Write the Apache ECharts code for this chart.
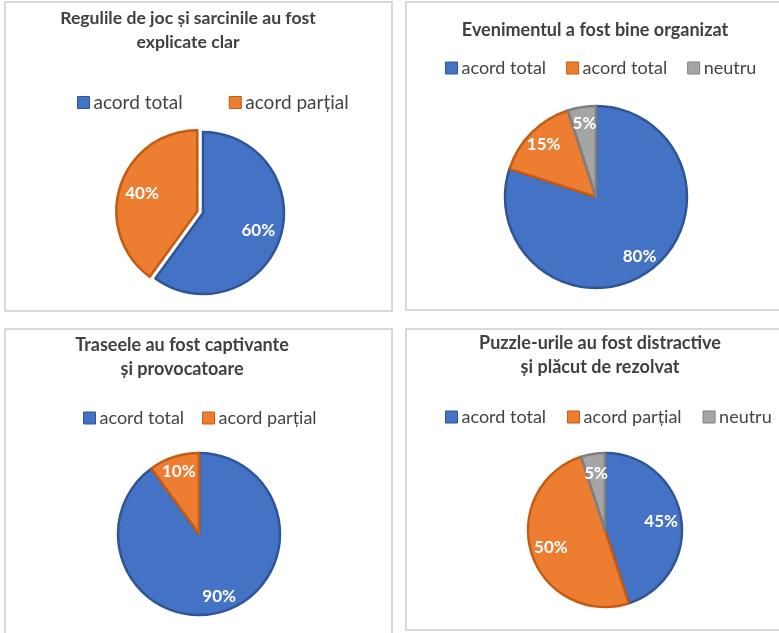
<!DOCTYPE html>
<html>
<head>
<meta charset="utf-8">
<script src="https://cdn.jsdelivr.net/npm/echarts@6/dist/echarts.min.js"></script>
<style>
html,body{margin:0;padding:0;background:#fff;}
#chart{width:779px;height:633px;}
</style>
</head>
<body>
<div id="chart"></div>
<script>
// ---- data ----
const chartTitles = [
  'Regulile de joc și sarcinile au fost\nexplicate clar',
  'Evenimentul a fost bine organizat',
  'Traseele au fost captivante\nși provocatoare',
  'Puzzle-urile au fost distractive\nși plăcut de rezolvat'
];
const categories1 = ['acord total', 'acord parțial'];
const values1 = [60, 40];
const categories2 = ['acord total', 'acord total', 'neutru'];
const values2 = [80, 15, 5];
const categories3 = ['acord total', 'acord parțial'];
const values3 = [90, 10];
const categories4 = ['acord total', 'acord parțial', 'neutru'];
const values4 = [45, 50, 5];

// ---- styling / layout ----
const FONT = 'Lato';
const sliceColors = ['#4472C4', '#ED7D31', '#A5A5A5'];
const sliceBorders = ['#2F5597', '#C55A11', '#7F7F7F'];

const panels = [
  {cats: categories1, vals: values1, title: chartTitles[0], tx: 188, ty: 6, tfs: 17.6,
   lx: 77, ly: 93, lfs: 19, gap: 46, cx: 203, cy: 213, r: 81, lab: 0.68, explode: 1},
  {cats: categories2, vals: values2, title: chartTitles[1], tx: 595, ty: 18, tfs: 18,
   lx: 445, ly: 59, lfs: 18, gap: 20, cx: 596, cy: 197, r: 91, lab: 0.78, explode: -1},
  {cats: categories3, vals: values3, title: chartTitles[2], tx: 182, ty: 333, tfs: 18,
   lx: 83, ly: 409, lfs: 18, gap: 18, cx: 199, cy: 534, r: 81, lab: 0.77, explode: -1},
  {cats: categories4, vals: values4, title: chartTitles[3], tx: 600, ty: 331, tfs: 18,
   lx: 445, ly: 408, lfs: 18, gap: 21, cx: 605, cy: 530, r: 77, lab: 0.70, explode: -1}
];

// unique internal names (one chart repeats a legend label)
function uniqueNames(cats) {
  const seen = {};
  return cats.map(c => {
    let n = c;
    while (seen[n]) n += '\u200B';
    seen[n] = true;
    return n;
  });
}

const titles = [], legends = [], mainSeries = [], labelSeries = [];
panels.forEach((p, i) => {
  const names = uniqueNames(p.cats);
  titles.push({
    text: p.title, left: p.tx, top: p.ty, textAlign: 'center', padding: 0,
    textStyle: {fontFamily: FONT, fontSize: p.tfs, fontWeight: 'bold', color: '#404040', lineHeight: 24}
  });
  legends.push({
    data: names, left: p.lx, top: p.ly, width: 360, padding: 0, itemGap: p.gap,
    itemWidth: 12, itemHeight: 12, icon: 'rect', selectedMode: false,
    itemStyle: {borderWidth: 1},
    formatter: n => n.replace(/\u200B/g, ''),
    textStyle: {fontFamily: FONT, fontSize: p.lfs, color: '#444444', padding: [0, 0, 0, -1]}
  });
  const mkData = (transparent) => p.vals.map((v, k) => ({
    name: names[k], value: v, selected: k === p.explode,
    itemStyle: transparent
      ? {color: 'rgba(0,0,0,0)', borderWidth: 0}
      : {color: sliceColors[k], borderColor: sliceBorders[k], borderWidth: 2.5}
  }));
  mainSeries.push({
    type: 'pie', center: [p.cx, p.cy], radius: [0, p.r], startAngle: 90, clockwise: true,
    selectedMode: 'single', selectedOffset: 6, animation: false, silent: true,
    label: {show: false}, labelLine: {show: false},
    data: mkData(false)
  });
  labelSeries.push({
    type: 'pie', center: [p.cx, p.cy],
    radius: [p.r * (p.lab - 0.2), p.r * (p.lab + 0.2)], startAngle: 90, clockwise: true,
    selectedMode: 'single', selectedOffset: 6, animation: false, silent: true,
    legendHoverLink: false,
    label: {show: true, position: 'inside', formatter: d => d.value + '%',
            fontFamily: FONT, fontSize: 17, fontWeight: 'bold', color: '#ffffff'},
    labelLine: {show: false},
    data: mkData(true)
  });
});

const chart = echarts.init(document.getElementById('chart'), null, {renderer: 'canvas'});
chart.setOption({
  backgroundColor: '#ffffff',
  animation: false,
  title: titles,
  legend: legends,
  graphic: [
    {type: 'rect', shape: {x: 5, y: 2, width: 387, height: 309}, style: {fill: 'none', stroke: '#D9D9D9', lineWidth: 2}},
    {type: 'rect', shape: {x: 406, y: 2, width: 420, height: 308}, style: {fill: 'none', stroke: '#D9D9D9', lineWidth: 2}},
    {type: 'rect', shape: {x: 5, y: 329, width: 387, height: 340}, style: {fill: 'none', stroke: '#D9D9D9', lineWidth: 2}},
    {type: 'rect', shape: {x: 406, y: 329, width: 420, height: 301}, style: {fill: 'none', stroke: '#D9D9D9', lineWidth: 2}}
  ],
  series: mainSeries.concat(labelSeries)
});
</script>
</body>
</html>
